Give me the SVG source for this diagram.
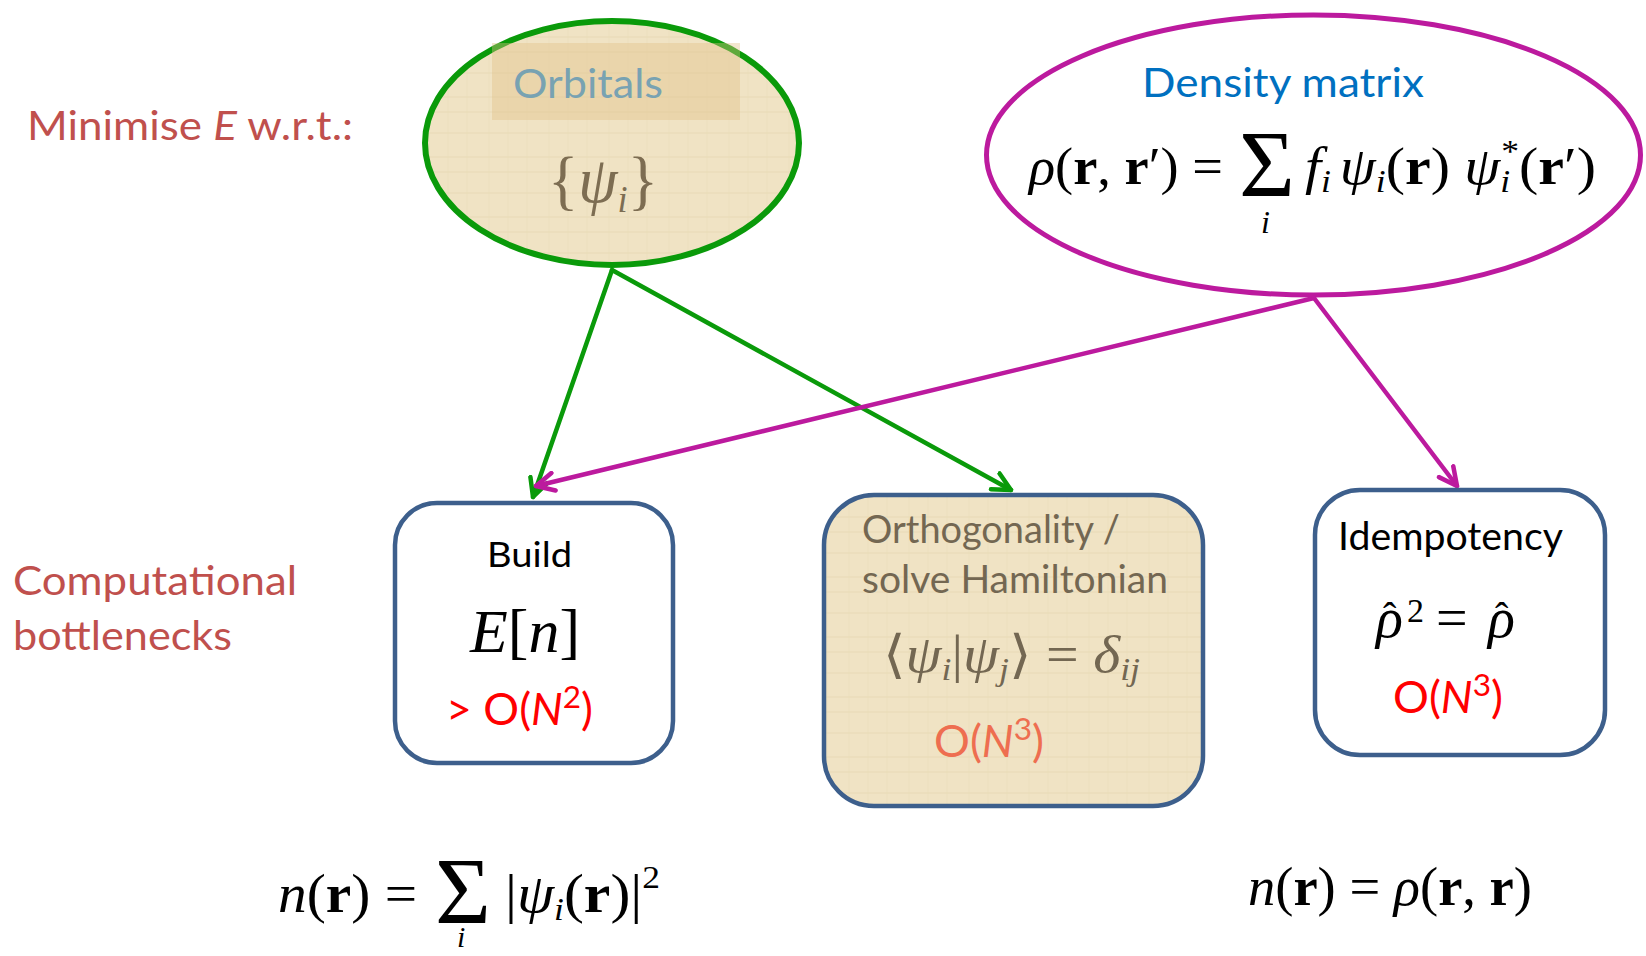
<svg xmlns="http://www.w3.org/2000/svg" width="1646" height="956" viewBox="0 0 1646 956">
<defs>
<pattern id="parch" width="60" height="60" patternUnits="userSpaceOnUse">
<rect width="60" height="60" fill="#F0E3C4"/>
<path d="M0 13H60M0 37H60M0 52H60" stroke="#E6D7B0" stroke-width="2" opacity="0.4"/>
<path d="M9 0V60M28 0V60M47 0V60" stroke="#E8DAB6" stroke-width="1.5" opacity="0.35"/>
</pattern>
<marker id="ahG" viewBox="0 0 10 10" markerWidth="5" markerHeight="5" refX="9" refY="5" orient="auto" markerUnits="strokeWidth">
<path d="M1,1 L9,5 L1,9" fill="none" stroke="#0A9A0A" stroke-width="2" stroke-linecap="round" stroke-linejoin="round"/>
</marker>
<marker id="ahM" viewBox="0 0 10 10" markerWidth="5" markerHeight="5" refX="9" refY="5" orient="auto" markerUnits="strokeWidth">
<path d="M1,1 L9,5 L1,9" fill="none" stroke="#BC1A9E" stroke-width="2" stroke-linecap="round" stroke-linejoin="round"/>
</marker>
</defs>
<style>
.lbl{font-family:Lato,"Open Sans","Liberation Sans",sans-serif;}
.red{fill:#C0504D;font-size:40px;}
.m{font-family:"Liberation Serif","DejaVu Serif",serif;}
.it{font-style:italic;}
.bf{font-weight:bold;}
.box{stroke:#3D5F8C;stroke-width:4.5;}
</style>
<rect width="1646" height="956" fill="#FFFFFF"/>

<g id="side-labels">
<text class="lbl red" x="27" y="140" textLength="326" lengthAdjust="spacingAndGlyphs">Minimise <tspan font-style="italic">E</tspan> w.r.t.:</text>
<text class="lbl red" x="13" y="595" textLength="284" lengthAdjust="spacingAndGlyphs">Computational</text>
<text class="lbl red" x="13" y="650" textLength="219" lengthAdjust="spacingAndGlyphs">bottlenecks</text>
</g>

<g id="orbitals">
<ellipse cx="612" cy="143" rx="187" ry="122" fill="url(#parch)" stroke="#0A9A0A" stroke-width="6"/>
<rect x="492" y="43" width="248" height="77" fill="#E0C088" opacity="0.4"/>
<text class="lbl" x="513" y="98" font-size="40" fill="#78A2B2" textLength="150" lengthAdjust="spacingAndGlyphs">Orbitals</text>
<text class="m" x="548" y="202" font-size="66" fill="#7D6D52" textLength="110" lengthAdjust="spacingAndGlyphs">{<tspan class="it">ψ</tspan><tspan class="it" font-size="38" dy="10">i</tspan><tspan dy="-10">}</tspan></text>
</g>

<g id="density-matrix">
<ellipse cx="1313.5" cy="155" rx="327" ry="140" fill="#FFFFFF" stroke="#BC1A9E" stroke-width="5"/>
<text class="lbl" x="1142" y="97" font-size="40" fill="#0070C0" textLength="282" lengthAdjust="spacingAndGlyphs">Density matrix</text>
<text class="m" x="1029" y="184" font-size="52" fill="#000" textLength="194" lengthAdjust="spacingAndGlyphs"><tspan class="it">ρ</tspan>(<tspan class="bf">r</tspan>, <tspan class="bf">r</tspan>′) =</text>
<text class="m" x="1239" y="197" font-size="96" fill="#000">Σ</text>
<text class="m it" x="1261" y="233" font-size="32" fill="#000">i</text>
<text class="m" x="1305" y="184" font-size="52" fill="#000" textLength="291" lengthAdjust="spacingAndGlyphs"><tspan class="it">f</tspan><tspan class="it" font-size="32" dy="8">i</tspan><tspan class="it" dx="8" dy="-8">ψ</tspan><tspan class="it" font-size="32" dy="8">i</tspan><tspan dy="-8">(</tspan><tspan class="bf">r</tspan>) <tspan class="it">ψ</tspan><tspan class="it" font-size="32" dy="8">i</tspan><tspan font-size="32" dx="-8" dy="-30">*</tspan><tspan dy="22">(</tspan><tspan class="bf">r</tspan>′)</text>
</g>

<g id="connectors" fill="none" stroke-width="4.5" stroke-linecap="round">
<line x1="612" y1="270" x2="533" y2="497" stroke="#0A9A0A" marker-end="url(#ahG)"/>
<line x1="612" y1="270" x2="1011" y2="490" stroke="#0A9A0A" marker-end="url(#ahG)"/>
<line x1="1314" y1="298" x2="536" y2="486" stroke="#BC1A9E" marker-end="url(#ahM)"/>
<line x1="1314" y1="298" x2="1457" y2="486" stroke="#BC1A9E" marker-end="url(#ahM)"/>
</g>

<g id="build">
<rect class="box" x="395" y="503" width="278" height="260" rx="42" fill="#FFFFFF"/>
<text class="lbl" x="487" y="567" font-size="35" fill="#000" textLength="85" lengthAdjust="spacingAndGlyphs">Build</text>
<text class="m" x="470" y="652" font-size="62" fill="#000" textLength="110" lengthAdjust="spacingAndGlyphs"><tspan class="it">E</tspan>[<tspan class="it">n</tspan>]</text>
<text class="lbl" x="446" y="725" font-size="44" fill="#FF0000" textLength="147" lengthAdjust="spacingAndGlyphs">&gt; O(<tspan font-style="italic">N</tspan><tspan font-size="31" dy="-17">2</tspan><tspan dy="17">)</tspan></text>
</g>

<g id="orthogonality">
<rect class="box" x="824" y="495" width="379" height="311" rx="50" fill="url(#parch)"/>
<text class="lbl" x="862" y="543" font-size="38" fill="#736752" textLength="258" lengthAdjust="spacingAndGlyphs">Orthogonality /</text>
<text class="lbl" x="862" y="593" font-size="38" fill="#736752" textLength="306" lengthAdjust="spacingAndGlyphs">solve Hamiltonian</text>
<text class="m" x="883" y="672" font-size="52" fill="#736752" textLength="257" lengthAdjust="spacingAndGlyphs">⟨<tspan class="it">ψ</tspan><tspan class="it" font-size="32" dy="8">i</tspan><tspan dy="-8">|</tspan><tspan class="it">ψ</tspan><tspan class="it" font-size="32" dy="8">j</tspan><tspan dy="-8">⟩ = </tspan><tspan class="it">δ</tspan><tspan class="it" font-size="32" dy="8">ij</tspan></text>
<text class="lbl" x="934" y="757" font-size="44" fill="#EE6E50" textLength="110" lengthAdjust="spacingAndGlyphs">O(<tspan font-style="italic">N</tspan><tspan font-size="31" dy="-17">3</tspan><tspan dy="17">)</tspan></text>
</g>

<g id="idempotency">
<rect class="box" x="1315" y="490" width="290" height="265" rx="45" fill="#FFFFFF"/>
<text class="lbl" x="1338" y="550" font-size="38" fill="#000" textLength="225" lengthAdjust="spacingAndGlyphs">Idempotency</text>
<text class="m it" x="1376" y="637" font-size="56" fill="#000">ρ</text>
<text class="m" x="1383" y="630" font-size="40" fill="#000">ˆ</text>
<text class="m" x="1407" y="622" font-size="34" fill="#000">2</text>
<text class="m" x="1436" y="637" font-size="56" fill="#000">=</text>
<text class="m it" x="1488" y="637" font-size="56" fill="#000">ρ</text>
<text class="m" x="1495" y="630" font-size="40" fill="#000">ˆ</text>
<text class="lbl" x="1393" y="713" font-size="44" fill="#FF0000" textLength="110" lengthAdjust="spacingAndGlyphs">O(<tspan font-style="italic">N</tspan><tspan font-size="31" dy="-17">3</tspan><tspan dy="17">)</tspan></text>
</g>

<g id="formula-left">
<text class="m" x="278" y="912" font-size="54" fill="#000" textLength="139" lengthAdjust="spacingAndGlyphs"><tspan class="it">n</tspan>(<tspan class="bf">r</tspan>) =</text>
<text class="m" x="435" y="924" font-size="96" fill="#000">Σ</text>
<text class="m it" x="457" y="947" font-size="30" fill="#000">i</text>
<text class="m" x="505" y="912" font-size="54" fill="#000" textLength="155" lengthAdjust="spacingAndGlyphs">|<tspan class="it">ψ</tspan><tspan class="it" font-size="32" dy="8">i</tspan><tspan dy="-8">(</tspan><tspan class="bf">r</tspan>)|<tspan font-size="32" dy="-24">2</tspan></text>
</g>

<g id="formula-right">
<text class="m" x="1248" y="905" font-size="54" fill="#000" textLength="284" lengthAdjust="spacingAndGlyphs"><tspan class="it">n</tspan>(<tspan class="bf">r</tspan>) = <tspan class="it">ρ</tspan>(<tspan class="bf">r</tspan>, <tspan class="bf">r</tspan>)</text>
</g>
</svg>
